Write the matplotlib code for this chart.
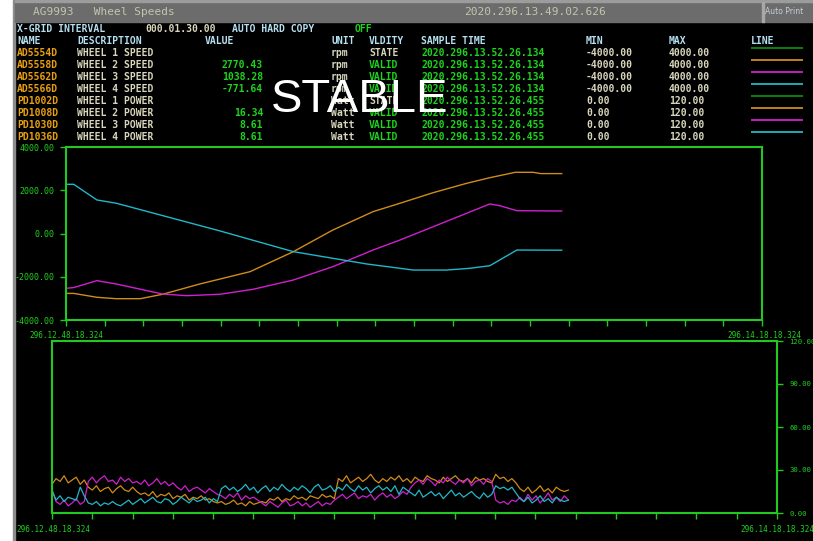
import matplotlib
matplotlib.use('Agg')
import matplotlib.pyplot as plt
import numpy as np
from matplotlib.patches import Rectangle

# --- Wheel speed curves (minutes after 296.12.48.18.324, rpm) ---
t_w2 = [0, 1, 4, 6.5, 9.6, 12.5, 17.3, 23.8, 29.4, 34.5, 39.7, 43.2, 47.5, 51.8, 54.8, 58.1, 60.4, 61.4, 64.1]
v_w2 = [-2770, -2770, -2950, -3015, -3015, -2810, -2335, -1765, -840, 160, 1010, 1400, 1890, 2320, 2580, 2830, 2830, 2770, 2770]
t_w3 = [0, 1, 4, 6.5, 12.5, 15.6, 19.9, 24.2, 29.4, 34.5, 39.7, 43.2, 54.8, 56.1, 58.3, 64.1]
v_w3 = [-2535, -2500, -2180, -2335, -2800, -2875, -2810, -2580, -2150, -1535, -765, -300, 1365, 1285, 1055, 1040]
t_w4 = [0, 1, 4, 6.5, 19.9, 29.4, 38.9, 43.2, 44.9, 49.2, 52.2, 54.8, 58.3, 64.1]
v_w4 = [2275, 2275, 1550, 1400, 120, -840, -1410, -1610, -1690, -1690, -1610, -1490, -765, -772]

# --- Wheel power samples (one every 0.5 min, Watt) ---
p_w2 = [20, 24, 22, 26, 21, 23, 25, 20, 23,
        18, 16, 19, 15, 17, 18, 14, 17, 19, 16, 15, 18,
        15, 13, 14, 12, 15, 11, 13, 12, 14, 10, 12, 11, 13, 9, 11, 10, 12, 9, 10, 8,
        7, 8, 6, 7, 9, 6, 7, 5, 8, 6, 7,
        8, 7, 10, 9, 11, 8, 10, 9, 12, 10, 11, 9, 12, 11, 10, 13, 11, 12, 10,
        24, 22, 26, 21, 23, 25, 22, 24, 27, 23, 21, 24, 22, 25, 23, 26, 22, 24, 21, 25,
        23, 22, 26, 24, 23, 21, 25, 22, 24, 26, 23, 22, 24, 21, 25, 23, 24, 22, 21,
        27, 24, 25, 22, 24, 21,
        17, 15, 18, 14, 16, 19, 15, 17, 14, 18, 16, 15, 16]
p_w3 = [16, 8, 6, 9, 5, 7, 10, 6, 8,
        22, 25, 21, 24, 26, 22, 23, 20, 25, 22, 24, 21,
        22, 20, 23, 19, 21, 24, 20, 22, 19, 21,
        18, 16, 19, 15, 17, 18, 16, 14, 17, 15, 13,
        12, 10, 13, 11, 14, 9, 12, 10, 11, 9,
        7, 5, 8, 6, 4, 7, 9, 5, 6, 8, 5, 7, 4, 6, 8, 5, 7, 6, 9,
        11, 13, 10, 12, 14, 10, 12, 11, 13, 9, 12, 14, 11, 13, 10, 12, 15, 13,
        18, 21, 23, 20, 24, 22, 19, 23, 21, 25, 22, 20, 23, 21, 24, 19, 22, 23, 20, 24, 22,
        9, 7, 8, 6, 9, 8,
        11, 8, 13, 9, 12, 7, 10, 14, 9, 11, 8, 12, 9]
p_w4 = [16, 9, 12, 8, 11, 10, 9, 18, 12,
        7, 6, 8, 5, 7, 6, 8, 6, 5, 7, 9, 6,
        8, 10, 7, 9, 11, 8, 7, 10, 9, 6, 8, 11, 9, 7, 10, 8, 9, 11, 7, 10, 8,
        17, 19, 16, 18, 15, 17, 20, 16, 18, 14, 17, 19, 15, 18, 16, 20, 17, 15, 18, 16,
        19, 17, 14, 18, 20, 16, 17, 19, 15, 18, 16, 20, 17, 15, 19, 16, 18, 14, 17, 19,
        16, 18, 15, 19, 13, 18, 16,
        14, 12, 16, 11, 13, 15, 12, 14, 10, 13, 16, 12, 14, 11, 13, 15, 12, 10, 14, 11, 13,
        19, 17, 18, 16, 18, 14,
        10, 8, 11, 7, 9, 12, 8, 10, 7, 11, 9, 8, 9]

# --- Table rows ---
tags = ['AD5554D', 'AD5558D', 'AD5562D', 'AD5566D', 'PD1002D', 'PD1008D', 'PD1030D', 'PD1036D']
descs = ['WHEEL 1 SPEED', 'WHEEL 2 SPEED', 'WHEEL 3 SPEED', 'WHEEL 4 SPEED',
         'WHEEL 1 POWER', 'WHEEL 2 POWER', 'WHEEL 3 POWER', 'WHEEL 4 POWER']
values = ['', '2770.43', '1038.28', '-771.64', '', '16.34', '8.61', '8.61']
units = ['rpm'] * 4 + ['Watt'] * 4
validity = ['STATE', 'VALID', 'VALID', 'VALID', 'STATE', 'VALID', 'VALID', 'VALID']
sample_times = ['2020.296.13.52.26.134'] * 4 + ['2020.296.13.52.26.455'] * 4
mins = ['-4000.00'] * 4 + ['0.00'] * 4
maxs = ['4000.00'] * 4 + ['120.00'] * 4

speed_ticks = [-4000, -2000, 0, 2000, 4000]
power_ticks = [0, 30, 60, 90, 120]

GREEN = '#22c822'
TXTGREEN = '#1ed21e'
ORANGE = '#d08c18'
MAGENTA = '#d020d0'
CYAN = '#20b8c8'
WHEEL1 = '#0c8a0c'
HEAD = '#b4e0f0'
BEIGE = '#d8d6bc'
TAG = '#e8a010'
line_colors = [WHEEL1, ORANGE, MAGENTA, CYAN] * 2

W, H = 813, 541
fig = plt.figure(figsize=(W / 100, H / 100), dpi=100)
fig.patch.set_facecolor('white')

bg = fig.add_axes([0, 0, 1, 1])
bg.set_xlim(0, W)
bg.set_ylim(H, 0)
bg.axis('off')
bg.add_patch(Rectangle((15, 22), W - 15, H - 22, color='black'))
bg.add_patch(Rectangle((13, 0), 2, H, color='#8c8c8c'))
bg.add_patch(Rectangle((15, 0), W - 15, 22, color='#6c6c6c'))
bg.add_patch(Rectangle((15, 0), W - 15, 2, color='#9c9c9c'))
bg.add_patch(Rectangle((762, 2), 1.5, 20, color='#a8a8a8'))

mono = 'DejaVu Sans Mono'
bg.text(33, 12, 'AG9993   Wheel Speeds', family=mono, fontsize=8, color='#c4c4ac', va='center')
bg.text(535, 12, '2020.296.13.49.02.626', family=mono, fontsize=8, color='#c4c4ac', va='center', ha='center')
bg.text(765, 12, 'Auto Print', family='DejaVu Sans', fontsize=5.5, color='#c8d0d8', va='center')

fs = 7
kw = dict(family=mono, fontsize=fs, fontweight='bold', va='center')
bg.text(17, 29, 'X-GRID INTERVAL', color=HEAD, **kw)
bg.text(145, 29, '000.01.30.00', color=BEIGE, **kw)
bg.text(232, 29, 'AUTO HARD COPY', color=HEAD, **kw)
bg.text(355, 29, 'OFF', color=TXTGREEN, **kw)

cols = [(17, 'NAME'), (77, 'DESCRIPTION'), (205, 'VALUE'), (331, 'UNIT'),
        (369, 'VLDITY'), (421, 'SAMPLE TIME'), (586, 'MIN'), (669, 'MAX'), (751, 'LINE')]
for x, label in cols:
    bg.text(x, 41, label, color=HEAD, **kw)

for i in range(len(tags)):
    y = 53 + 12 * i
    bg.text(17, y, tags[i], color=TAG, **kw)
    bg.text(77, y, descs[i], color=BEIGE, **kw)
    bg.text(263, y, values[i], color=TXTGREEN, ha='right', family=mono, fontsize=fs,
            fontweight='bold', va='center')
    bg.text(331, y, units[i], color=BEIGE, **kw)
    bg.text(369, y, validity[i], color=TXTGREEN if validity[i] == 'VALID' else BEIGE, **kw)
    bg.text(421, y, sample_times[i], color=TXTGREEN, **kw)
    bg.text(586, y, mins[i], color=BEIGE, **kw)
    bg.text(669, y, maxs[i], color=BEIGE, **kw)
    bg.plot([751, 803], [y - 5, y - 5], color=line_colors[i], lw=1.3, solid_capstyle='butt')

bg.text(360, 100, 'STABLE', family='Liberation Sans', fontsize=34, color='white',
        ha='center', va='center', zorder=20)

# time labels
tl = dict(family=mono, fontsize=5.5, color=TXTGREEN, va='center')
bg.text(29, 335, '296.12.48.18.324', **tl)
bg.text(727, 335, '296.14.18.18.324', **tl)
bg.text(16, 529, '296.12.48.18.324', **tl)
bg.text(740, 529, '296.14.18.18.324', **tl)


def style(ax, lsize):
    ax.set_facecolor('none')
    for s in ax.spines.values():
        s.set_color(GREEN)
        s.set_linewidth(1.5)
    ax.set_xlim(0, 90)
    ax.set_xticks(np.arange(0, 91, 5))
    ax.set_xticklabels([])
    ax.tick_params(axis='x', colors=GREEN, length=4, width=1, direction='out')
    ax.tick_params(axis='y', colors=GREEN, labelcolor=TXTGREEN, labelsize=lsize, length=4, width=1)
    for lab in ax.get_yticklabels():
        lab.set_family(mono)


# top chart: speeds
ax1 = fig.add_axes([66 / W, 1 - 320 / H, 696 / W, 173 / H])
ax1.plot(t_w2, v_w2, color=ORANGE, lw=1.0)
ax1.plot(t_w3, v_w3, color=MAGENTA, lw=1.0)
ax1.plot(t_w4, v_w4, color=CYAN, lw=1.0)
ax1.set_ylim(-4000, 4000)
ax1.set_yticks(speed_ticks)
ax1.set_yticklabels(['%.2f' % v for v in speed_ticks])
style(ax1, 6)
ax1.tick_params(axis='y', pad=4)

# bottom chart: power
ax2 = fig.add_axes([52 / W, 1 - 513 / H, 725 / W, 172 / H])
for p, c in [(p_w2, ORANGE), (p_w3, MAGENTA), (p_w4, CYAN)]:
    t = np.linspace(0, 64.1, len(p))
    ax2.plot(t, p, color=c, lw=0.9)
ax2.set_ylim(0, 120)
ax2.yaxis.tick_right()
ax2.set_yticks(power_ticks)
ax2.set_yticklabels(['%.2f' % v for v in power_ticks])
style(ax2, 5.2)
ax2.tick_params(axis='y', pad=5)

fig.savefig('out.png', dpi=100, facecolor=fig.get_facecolor())
